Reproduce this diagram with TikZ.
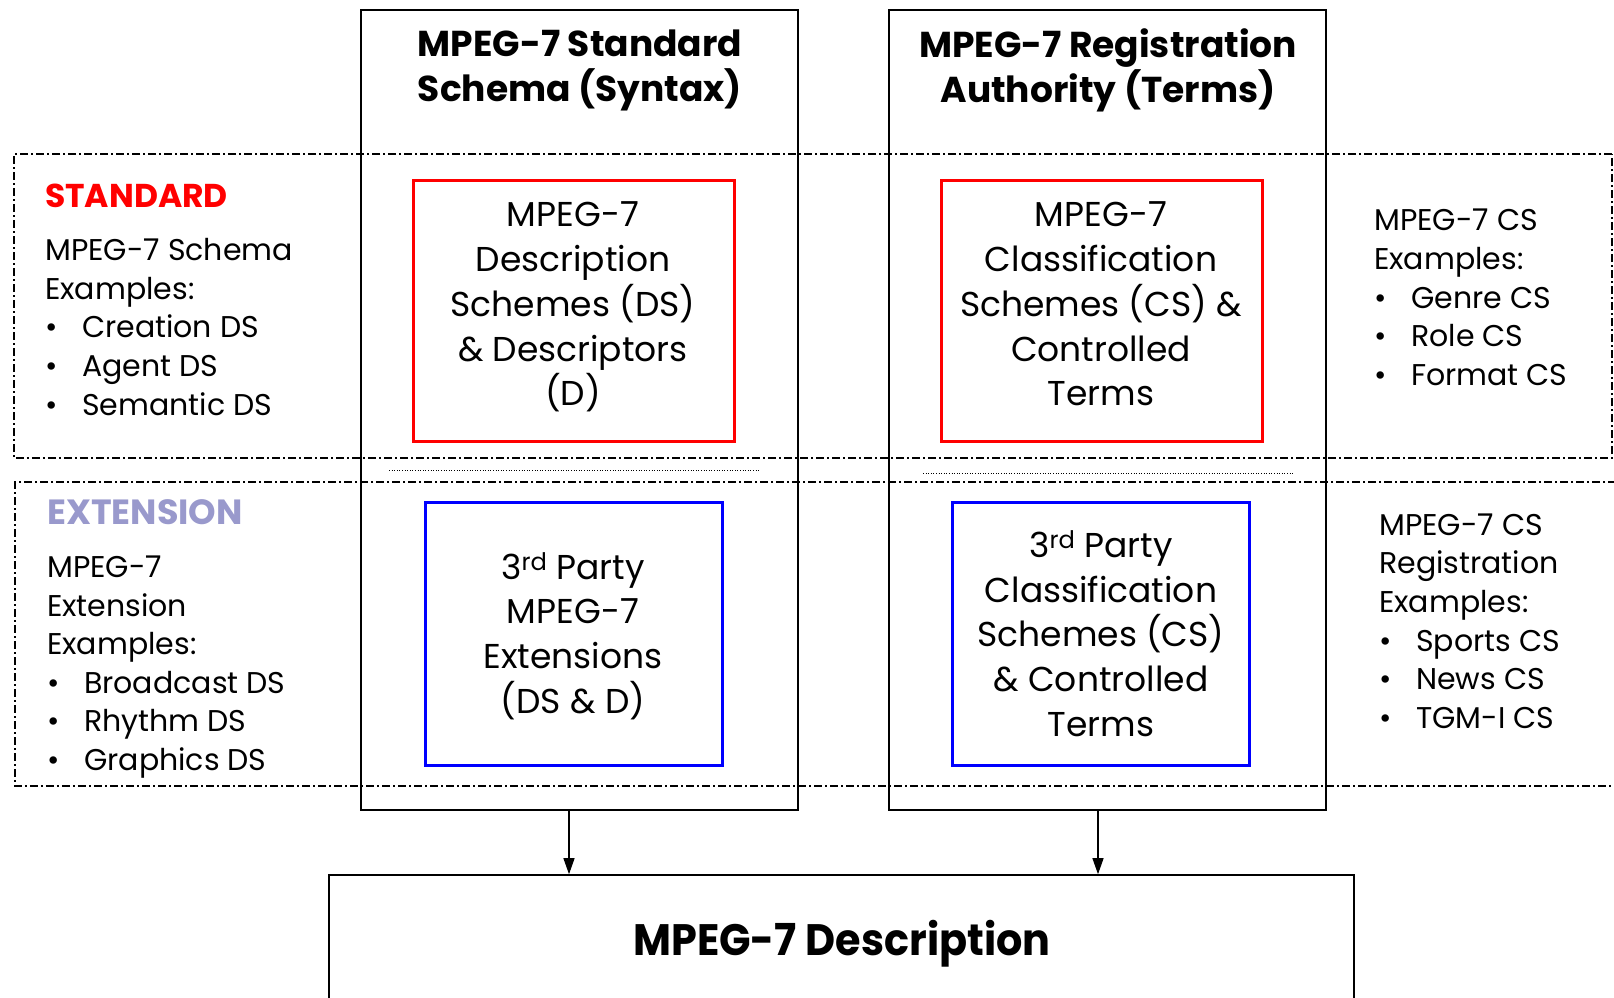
\documentclass[tikz,border=0pt]{standalone}
\usepackage{fontspec}
\setmainfont{Poppins}
\usetikzlibrary{arrows.meta}
\definecolor{extc}{RGB}{153,153,204}
\definecolor{redb}{RGB}{255,0,0}
\definecolor{blueb}{RGB}{0,0,255}
\newcommand\bul{\makebox[37pt][l]{•}}
\begin{document}
\begin{tikzpicture}[x=1pt,y=-1pt,
  col/.style={draw, line width=1.6pt, minimum width=437pt, minimum height=800pt, inner sep=0pt},
  band/.style={line width=1.3pt, dash pattern=on 8pt off 3pt on 2pt off 3pt},
  dotl/.style={line width=0.9pt, dash pattern=on 1pt off 1.6pt},
  redbox/.style={draw=redb, line width=3pt, minimum width=321pt, minimum height=261pt, inner sep=0pt},
  bluebox/.style={draw=blueb, line width=3pt, minimum width=297pt, minimum height=263pt, inner sep=0pt},
  boxtxt/.style={align=center, inner sep=0pt, font=\fontsize{34.5}{44.8}\selectfont},
  ttl/.style={align=center, inner sep=0pt, font=\bfseries\fontsize{36}{45}\selectfont},
  side/.style={align=left, inner sep=0pt, anchor=west, font=\fontsize{30}{38.6}\selectfont},
  head/.style={inner sep=0pt, anchor=west, font=\bfseries\fontsize{33}{36}\selectfont},
  arr/.style={line width=1.2pt, -{Triangle[length=16pt,width=11pt]}}
]
\useasboundingbox (0,0) rectangle (1614,998);
% bands
\draw[band] (1612,154) -- (14,154) -- (14,458) -- (1612,458) -- cycle;
\draw[band] (1616,482) -- (15,482) -- (15,786) -- (1616,786);
% columns
\node[col] (colL) at (579.5,410) {};
\node[col] (colR) at (1107.5,410) {};
\node[ttl] (ttlL) at (580,70) {MPEG-7 Standard\\Schema (Syntax)};
\node[ttl] (ttlR) at (1108,70) {MPEG-7 Registration\\Authority (Terms)};
% dotted separators
\draw[dotl] (389,470) -- (759,470);
\draw[dotl] (923,473) -- (1293,473);
% red boxes
\node[redbox] (rL) at (573.5,310.5) {};
\node[redbox] (rR) at (1101.5,310.5) {};
\node[boxtxt] (rLt) at (573,307) {MPEG-7\\Description\\Schemes (DS)\\\& Descriptors\\(D)};
\node[boxtxt] (rRt) at (1101,304) {MPEG-7\\Classification\\Schemes (CS) \&\\Controlled\\Terms};
% blue boxes
\node[bluebox] (bL) at (573.5,633.5) {};
\node[bluebox] (bR) at (1101,633.5) {};
\node[boxtxt] (bLt) at (573,636) {3\textsuperscript{rd} Party\\MPEG-7\\Extensions\\(DS \& D)};
\node[boxtxt] (bRt) at (1101,633.5) {3\textsuperscript{rd} Party\\Classification\\Schemes (CS)\\\& Controlled\\Terms};
% side texts
\node[head, text=redb] (std) at (45,196) {STANDARD};
\node[side] (stdt) at (45,327) {MPEG-7 Schema\\Examples:\\\bul Creation DS\\\bul Agent DS\\\bul Semantic DS};
\node[head, text=extc, font=\bfseries\fontsize{35}{36}\selectfont] (ext) at (47,512) {EXTENSION};
\node[side] (extt) at (47,667) {MPEG-7\\Extension\\Examples:\\\bul Broadcast DS\\\bul Rhythm DS\\\bul Graphics DS};
\node[side] (cst) at (1374,297.5) {MPEG-7 CS\\Examples:\\\bul Genre CS\\\bul Role CS\\\bul Format CS};
\node[side] (csr) at (1379,621) {MPEG-7 CS\\Registration\\Examples:\\\bul Sports CS\\\bul News CS\\\bul TGM-I CS};
% description
\node[draw, line width=1.6pt, minimum width=1025pt, minimum height=250pt, inner sep=0pt] (desc) at (841.5,1000) {};
\node[inner sep=0pt, font=\bfseries\fontsize{44}{50}\selectfont] (desct) at (842,944) {\scalebox{0.94}[1]{MPEG-7 Description}};
\coordinate (aL) at (569,0);
\coordinate (aR) at (1098,0);
\draw[arr] (colL.south -| aL) -- (desc.north -| aL);
\draw[arr] (colR.south -| aR) -- (desc.north -| aR);
\end{tikzpicture}
\end{document}
